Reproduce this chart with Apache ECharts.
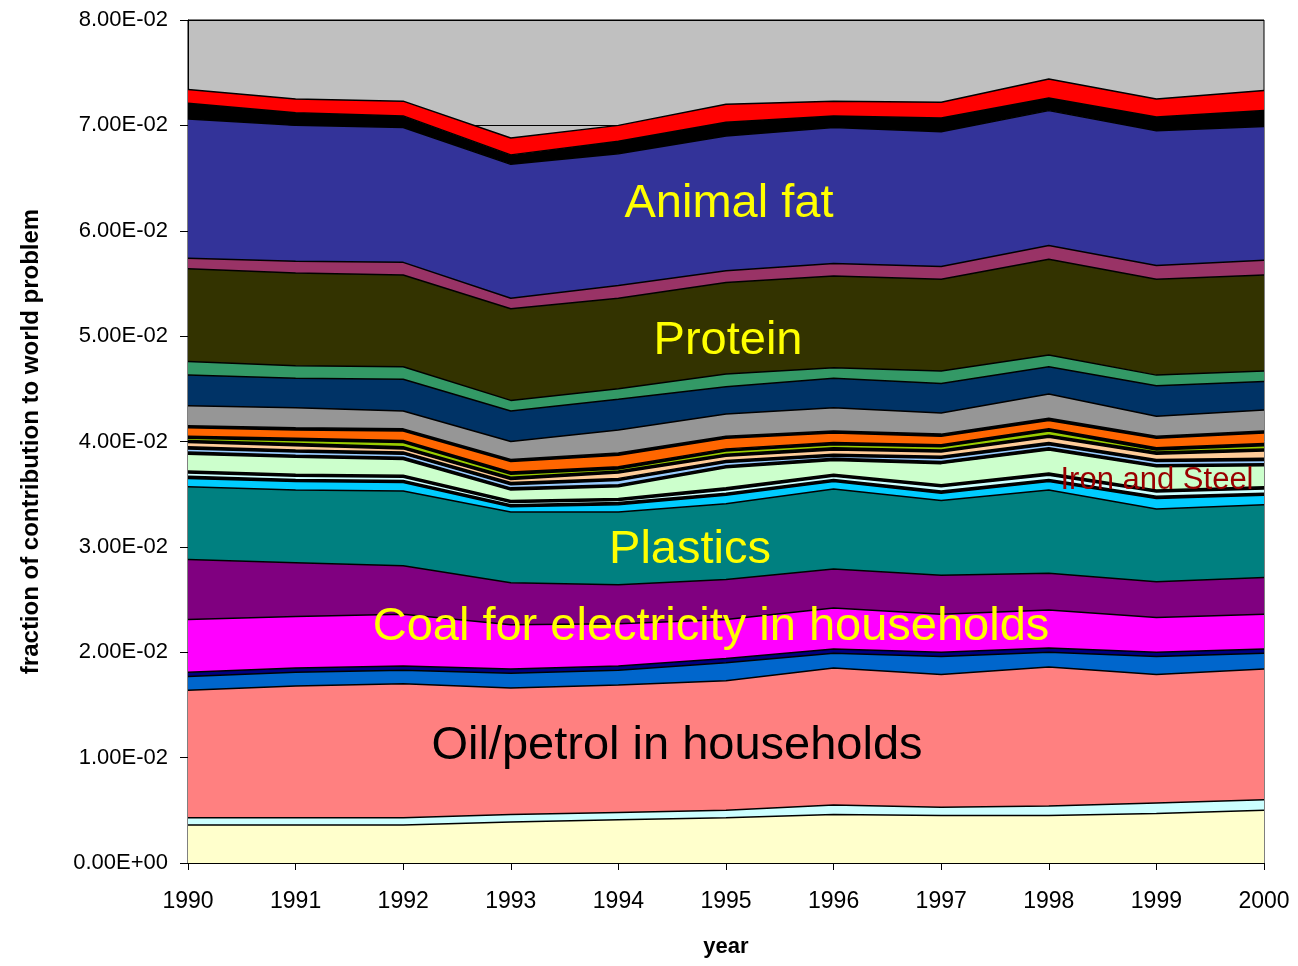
<!DOCTYPE html>
<html>
<head>
<meta charset="UTF-8">
<title>fraction of contribution to world problem</title>
<style type="text/css">
	html,body{margin:0;padding:0;width:100%;height:100%;background:#fff;}
	#main{width:1298px;height:966px;}
</style>
</head>
<body>
<div id="main"></div>
<script src="https://cdn.jsdelivr.net/npm/echarts@6/dist/echarts.min.js"></script>
<script>
var years = ['1990','1991','1992','1993','1994','1995','1996','1997','1998','1999','2000'];

// layers from the bottom of the stack upwards
var lightYellow  = [.0036,.0036,.0036,.0039,.0041,.0043,.0046,.0045,.0045,.0047,.0050];
var lightCyan    = [.0007,.0007,.0007,.0007,.0007,.0007,.0009,.0008,.0009,.0010,.0010];
var oilPetrol    = [.0121,.0125,.0127,.0120,.0121,.0123,.0130,.0126,.0132,.0122,.0124];
var blue         = [.0013,.0013,.0013,.0014,.0014,.0017,.0014,.0017,.0014,.0017,.0015];
var navyThin     = [.0004,.0004,.0004,.0004,.0004,.0004,.0004,.0004,.0004,.0004,.0004];
var coalElec     = [.0050,.0049,.0049,.0042,.0040,.0037,.0039,.0036,.0036,.0033,.0033];
var purple       = [.0057,.0051,.0046,.0040,.0037,.0038,.0037,.0037,.0035,.0034,.0035];
var plastics     = [.0069,.0069,.0071,.0067,.0069,.0072,.0076,.0071,.0079,.0069,.0069];
var cyan         = [.0008,.0008,.0008,.0005,.0007,.0008,.0007,.0007,.0008,.0010,.0009];
var black1       = [.0002,.0002,.0002,.0002,.0002,.0002,.0002,.0002,.0002,.0002,.0002];
var paleCyan     = [.0003,.0003,.0003,.0002,.0002,.0003,.0003,.0004,.0004,.0004,.0004];
var black2       = [.0002,.0002,.0002,.0002,.0002,.0002,.0002,.0002,.0002,.0002,.0002];
var ironSteel    = [.0016,.0016,.0015,.0010,.0011,.0019,.0013,.0020,.0022,.0022,.0020];
var black3       = [.0002,.0002,.0002,.0002,.0002,.0002,.0002,.0002,.0002,.0002,.0002];
var paleBlue     = [.0003,.0003,.0003,.0003,.0004,.0003,.0002,.0003,.0003,.0003,.0003];
var black4       = [.0002,.0002,.0002,.0002,.0002,.0002,.0002,.0002,.0002,.0002,.0002];
var peach        = [.0004,.0004,.0003,.0003,.0005,.0004,.0004,.0004,.0005,.0005,.0007];
var black5       = [.0002,.0002,.0002,.0002,.0002,.0002,.0002,.0002,.0002,.0002,.0002];
var limeGreen    = [.0002,.0003,.0004,.0003,.0002,.0003,.0003,.0003,.0004,.0002,.0003];
var black6       = [.0002,.0002,.0002,.0002,.0002,.0002,.0002,.0002,.0002,.0002,.0002];
var orange       = [.0008,.0008,.0009,.0010,.0011,.0010,.0009,.0008,.0008,.0009,.0010];
var black7       = [.0002,.0002,.0002,.0002,.0002,.0002,.0002,.0002,.0002,.0002,.0002];
var grey         = [.0019,.0019,.0017,.0017,.0022,.0021,.0022,.0020,.0023,.0019,.0020];
var darkNavy     = [.0029,.0028,.0030,.0029,.0029,.0026,.0028,.0028,.0026,.0029,.0027];
var seaGreen     = [.0013,.0012,.0012,.0010,.0010,.0012,.0010,.0012,.0011,.0010,.0010];
var protein      = [.0088,.0088,.0087,.0087,.0086,.0087,.0087,.0087,.0091,.0091,.0091];
var plum         = [.0010,.0011,.0012,.0010,.0012,.0011,.0012,.0012,.0013,.0013,.0014];
var animalFat    = [.0132,.0129,.0128,.0127,.0125,.0128,.0129,.0128,.0128,.0128,.0127];
var blackTop     = [.0015,.0012,.0011,.0009,.0012,.0013,.0011,.0013,.0012,.0013,.0015];
var red          = [.0013,.0013,.0014,.0016,.0015,.0017,.0014,.0015,.0018,.0017,.0019];

var layers = [lightYellow, lightCyan, oilPetrol, blue, navyThin, coalElec, purple, plastics,
	cyan, black1, paleCyan, black2, ironSteel, black3, paleBlue, black4, peach, black5,
	limeGreen, black6, orange, black7, grey, darkNavy, seaGreen, protein, plum, animalFat,
	blackTop, red];
var colors = ['#FFFFCC','#CCFFFF','#FF8080','#0066CC','#000080','#FF00FF','#800080','#008080',
	'#00CCFF','#000000','#CCFFFF','#000000','#CCFFCC','#000000','#99CCFF','#000000','#FFCC99','#000000',
	'#99CC00','#000000','#FF6600','#000000','#969696','#003366','#339966','#333300','#993366','#333399',
	'#000000','#FF0000'];

var font = 'Liberation Sans, Arial, sans-serif';

function sci(v){
	if(v === 0) return '0.00E+00';
	var e = Math.floor(Math.log10(v) + 1e-9);
	var m = v / Math.pow(10, e);
	var es = Math.abs(e) < 10 ? '0' + Math.abs(e) : '' + Math.abs(e);
	return m.toFixed(2) + 'E' + (e < 0 ? '-' : '+') + es;
}

var series = layers.map(function(d, i){
	return {
		type: 'line',
		stack: 'all',
		data: d,
		symbol: 'none',
		silent: true,
		lineStyle: {color: '#000', width: 1.5},
		areaStyle: {color: colors[i], opacity: 1},
		z: 2
	};
});

function label(text, x, y, size, color){
	return {
		type: 'text', x: x, y: y, z: 100,
		style: {text: text, font: size + 'px ' + font, fill: color, align: 'center', verticalAlign: 'middle'}
	};
}

var myChart = echarts.init(document.getElementById('main'));
myChart.setOption({
	backgroundColor: '#fff',
	animation: false,
	grid: {
		left: 188, right: 34, top: 20, bottom: 103,
		show: true, backgroundColor: '#C0C0C0', borderColor: '#000', borderWidth: 1
	},
	xAxis: {
		type: 'category',
		data: years,
		boundaryGap: false,
		name: 'year',
		nameLocation: 'middle',
		nameGap: 73,
		nameTextStyle: {fontFamily: font, fontSize: 22, fontWeight: 'bold', color: '#000'},
		axisLine: {lineStyle: {color: '#000', width: 1}},
		axisTick: {show: true, length: 7, lineStyle: {color: '#000'}},
		axisLabel: {fontFamily: font, fontSize: 23, color: '#000', margin: 27},
		splitLine: {show: false}
	},
	yAxis: {
		type: 'value',
		min: 0, max: 0.08, interval: 0.01,
		name: 'fraction of contribution to world problem',
		nameLocation: 'middle',
		nameGap: 145,
		nameRotate: 90,
		nameTextStyle: {fontFamily: font, fontSize: 24, fontWeight: 'bold', color: '#000'},
		axisLine: {show: true, lineStyle: {color: '#000', width: 1}},
		axisTick: {show: true, length: 8, lineStyle: {color: '#000'}},
		axisLabel: {fontFamily: font, fontSize: 22, color: '#000', margin: 20, formatter: sci},
		splitLine: {show: true, lineStyle: {color: '#000', width: 1}}
	},
	graphic: [
		label('Animal fat', 729, 204, 47, '#FFFF00'),
		label('Protein', 728, 341, 47, '#FFFF00'),
		label('Plastics', 690, 550, 47, '#FFFF00'),
		label('Coal for electricity in households', 711, 627, 47, '#FFFF00'),
		label('Oil/petrol in households', 677, 746, 47, '#000000'),
		label('Iron and Steel', 1157, 480, 31, '#990000')
	],
	series: series
});
</script>
</body>
</html>
